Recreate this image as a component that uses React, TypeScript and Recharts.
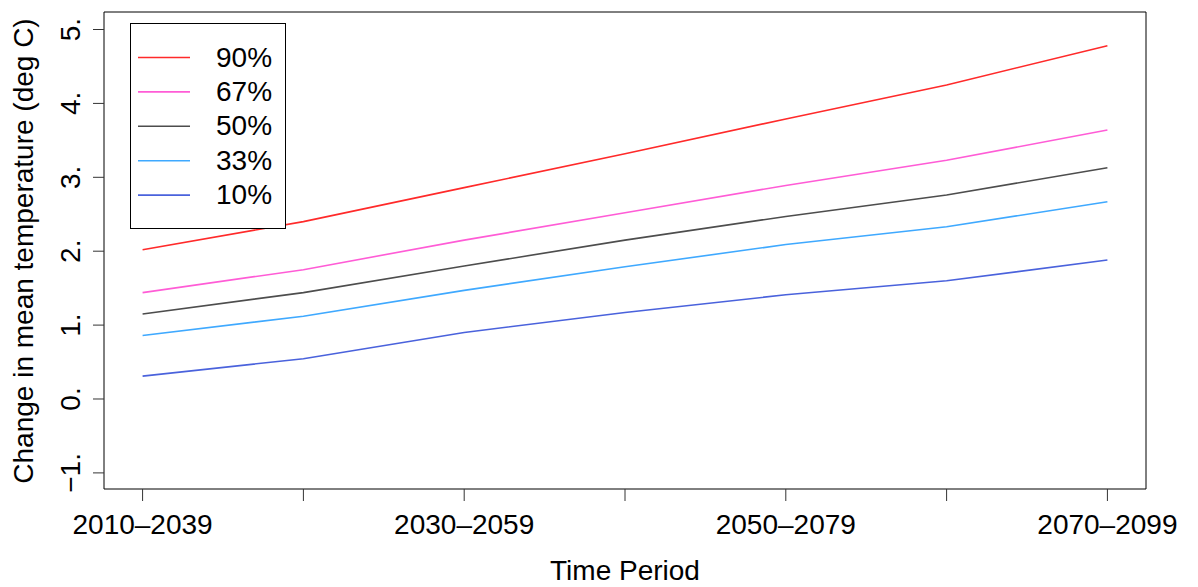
import React from 'react';
import { LineChart, Line, XAxis, YAxis } from 'recharts';

// time periods on the x axis (only every other one gets a label)
const periods = ['2010–2039', '2020–2049', '2030–2059', '2040–2069', '2050–2079', '2060–2089', '2070–2099'];
const labelledPeriods = [0, 2, 4, 6];

// change in mean temperature (deg C) per percentile
const p90 = [2.02, 2.40, 2.86, 3.32, 3.79, 4.25, 4.78];
const p67 = [1.44, 1.75, 2.15, 2.52, 2.89, 3.23, 3.64];
const p50 = [1.15, 1.44, 1.80, 2.15, 2.47, 2.76, 3.13];
const p33 = [0.86, 1.12, 1.47, 1.79, 2.09, 2.33, 2.67];
const p10 = [0.31, 0.545, 0.90, 1.17, 1.41, 1.60, 1.88];

const yTicks = [-1, 0, 1, 2, 3, 4, 5];

const series = [
  { key: 'p90', name: '90%', values: p90, color: '#ff2a2a' },
  { key: 'p67', name: '67%', values: p67, color: '#ff5cd6' },
  { key: 'p50', name: '50%', values: p50, color: '#4d4d4d' },
  { key: 'p33', name: '33%', values: p33, color: '#3fa9ff' },
  { key: 'p10', name: '10%', values: p10, color: '#4a62dc' },
];

const data = periods.map((period, i) => {
  const row: Record<string, number | string> = { idx: i, period };
  series.forEach((s) => {
    row[s.key] = s.values[i];
  });
  return row;
});

const FONT = '"Liberation Sans", Arial, Helvetica, sans-serif';
const xDomain = [-0.24, 6.24];
const yDomain = [-1.218, 5.237];
const xTicks = periods.map((_, i) => i);

const XTick = (props: any) => {
  const { x, payload } = props;
  if (!labelledPeriods.includes(payload.value)) return null;
  return (
    <text x={x} y={534} textAnchor="middle" fontSize={28} fontFamily={FONT} fill="#000">
      {periods[payload.value]}
    </text>
  );
};

const YTick = (props: any) => {
  const { y, payload } = props;
  const v = payload.value;
  const label = (v < 0 ? '−' + Math.abs(v) : String(v)) + '.';
  return (
    <text
      x={80}
      y={y}
      transform={`rotate(-90, 80, ${y})`}
      textAnchor="middle"
      fontSize={28}
      fontFamily={FONT}
      fill="#000"
    >
      {label}
    </text>
  );
};

const Legendbox = () => (
  <div
    style={{
      position: 'absolute',
      left: 130,
      top: 23,
      width: 154,
      height: 204,
      border: '1px solid #000',
      background: '#fff',
      fontFamily: FONT,
      fontSize: 28,
    }}
  >
    <svg width={154} height={204} style={{ position: 'absolute', left: 0, top: 0 }}>
      {series.map((s, i) => (
        <line key={s.key} x1={7} x2={59} y1={33.5 + i * 34.4} y2={33.5 + i * 34.4} stroke={s.color} strokeWidth={1.6} />
      ))}
    </svg>
    {series.map((s, i) => (
      <div
        key={s.key}
        style={{ position: 'absolute', left: 85, top: 33.5 + i * 34.4 - 17, lineHeight: '34px', color: '#000' }}
      >
        {s.name}
      </div>
    ))}
  </div>
);

export default function App() {
  return (
    <div style={{ position: 'absolute', left: 0, top: 0, width: 1198, height: 587, background: '#fff' }}>
      <LineChart width={1198} height={587} data={data} margin={{ top: 2, right: 32, bottom: 68, left: 44 }}>
        <XAxis
          xAxisId="bottom"
          dataKey="idx"
          type="number"
          domain={xDomain}
          ticks={xTicks}
          allowDataOverflow
          height={30}
          tickSize={12}
          stroke="#000"
          tickLine={{ stroke: '#333' }}
          tick={<XTick />}
          interval={0}
          label={{ value: 'Time Period', position: 'bottom', offset: 41, fontSize: 28, fontFamily: FONT, fill: '#000' }}
        />
        <XAxis
          xAxisId="top"
          orientation="top"
          dataKey="idx"
          type="number"
          domain={xDomain}
          ticks={xTicks}
          allowDataOverflow
          height={10}
          tickSize={8}
          stroke="#000"
          tickLine={{ stroke: '#333' }}
          tick={false}
          interval={0}
        />
        <YAxis
          yAxisId="left"
          type="number"
          domain={yDomain}
          ticks={yTicks}
          allowDataOverflow
          width={60}
          tickSize={11}
          stroke="#000"
          tickLine={{ stroke: '#333' }}
          tick={<YTick />}
          interval={0}
          label={{
            content: () => (
              <text
                x={33}
                y={251}
                transform="rotate(-90, 33, 251)"
                textAnchor="middle"
                fontSize={28}
                fontFamily={FONT}
                fill="#000"
              >
                Change in mean temperature (deg C)
              </text>
            ),
          }}
        />
        <YAxis
          yAxisId="right"
          orientation="right"
          type="number"
          domain={yDomain}
          ticks={yTicks}
          allowDataOverflow
          width={20}
          tickSize={13}
          stroke="#000"
          tickLine={{ stroke: '#555' }}
          tick={false}
          interval={0}
        />
        {series.map((s) => (
          <Line
            key={s.key}
            xAxisId="bottom"
            yAxisId="left"
            dataKey={s.key}
            name={s.name}
            type="linear"
            stroke={s.color}
            strokeWidth={1.6}
            dot={false}
            activeDot={false}
            isAnimationActive={false}
          />
        ))}
      </LineChart>
      <Legendbox />
    </div>
  );
}
